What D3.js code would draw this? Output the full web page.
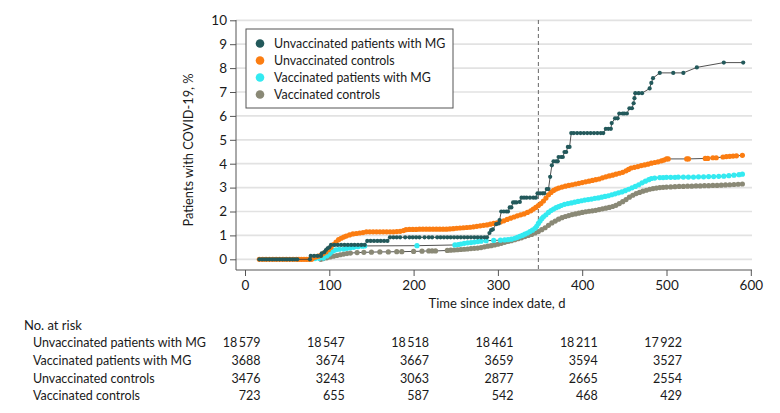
<!DOCTYPE html>
<html><head><meta charset="utf-8">
<script src="https://cdn.jsdelivr.net/npm/d3@7"></script>
<style>
html,body{margin:0;padding:0;background:#fff;}
svg text{font-family:Lato,"Liberation Sans",Arial,sans-serif;fill:#1a1a1a;}
</style></head>
<body><svg id="c" width="780" height="413"></svg>
<script>
// ---------- data ----------
const seriesNames = ["Unvaccinated patients with MG","Unvaccinated controls","Vaccinated patients with MG","Vaccinated controls"];
const seriesColors = ["#23595b","#fb7d12","#33eaf1","#8a8976"];
const xTicks = [0,100,200,300,400,500,600];
const yTicks = [0,1,2,3,4,5,6,7,8,9,10];
const cutoffDay = 348;

const unvaxMG = [[17,0],[20,0],[23,0],[26,0],[29,0],[32,0],[35,0],[38,0],[41,0],[44,0],[47,0],[50,0],[53,0],[56,0],[59,0],[62,0],[77,0],[78,0.14],[82,0.14],[86,0.14],[90,0.14],[91,0.25],[94,0.3],[96,0.39],[98,0.46],[100,0.5],[102,0.6],[106,0.6],[110,0.6],[114,0.6],[118,0.6],[122,0.6],[126,0.6],[130,0.6],[134,0.6],[138,0.6],[142,0.6],[145,0.77],[149,0.77],[153,0.77],[157,0.77],[161,0.77],[165,0.77],[169,0.77],[172,0.92],[176,0.92],[180,0.92],[184,0.92],[190,0.92],[195,0.92],[199,0.92],[203,0.92],[207,0.92],[213,0.92],[218,0.92],[222,0.92],[228,0.92],[232,0.92],[236,0.92],[240,0.92],[244,0.92],[248,0.92],[252,0.92],[256,0.92],[260,0.92],[264,0.92],[268,0.92],[272,0.92],[276,0.92],[280,0.92],[284,0.92],[287,0.92],[290,1.1],[292,1.22],[294,1.25],[298,1.47],[301,1.5],[302,1.64],[304,2.0],[307,2.0],[310,2.0],[312,2.0],[314,2.17],[316,2.17],[318,2.38],[320,2.38],[322,2.38],[326,2.4],[328,2.58],[331,2.58],[334,2.58],[338,2.58],[342,2.58],[345,2.58],[347,2.76],[350,2.76],[353,2.76],[355,2.76],[358,2.94],[360,2.94],[362,3.45],[364,3.93],[366,4.1],[369,4.1],[371,4.1],[372,4.28],[375,4.28],[377,4.28],[379,4.49],[381,4.49],[383,4.7],[385,4.7],[387,5.28],[390,5.28],[394,5.28],[398,5.28],[402,5.28],[406,5.28],[410,5.28],[414,5.28],[418,5.28],[422,5.28],[425,5.28],[428,5.46],[431,5.46],[434,5.46],[435,5.7],[439,5.9],[442,5.9],[444,6.1],[448,6.1],[450,6.1],[453,6.1],[456,6.32],[459,6.32],[461,6.53],[462,6.74],[463,6.95],[467,6.95],[471,6.95],[480,7.15],[482,7.38],[484,7.58],[492,7.8],[508,7.8],[520,7.8],[536,8.03],[568,8.23],[591,8.23]];

const unvaxCtrl = [[17,0],[21,0],[25,0],[29,0],[33,0],[37,0],[41,0],[45,0],[49,0],[53,0],[57,0],[61,0],[64,0],[67,0],[70,0],[73,0],[76,0],[79,0],[81,0.06],[84,0.1],[87,0.13],[90,0.17],[93,0.24],[96,0.31],[99,0.4],[102,0.5],[105,0.62],[108,0.72],[111,0.82],[114,0.88],[117,0.93],[120,0.97],[124,1.02],[128,1.06],[132,1.08],[136,1.1],[140,1.12],[144,1.15],[148,1.15],[152,1.15],[156,1.15],[160,1.15],[164,1.15],[168,1.15],[172,1.15],[176,1.15],[180,1.16],[184,1.17],[188,1.2],[191,1.24],[195,1.25],[199,1.25],[203,1.25],[207,1.26],[211,1.26],[215,1.26],[219,1.26],[223,1.26],[227,1.26],[231,1.26],[235,1.26],[239,1.26],[243,1.27],[247,1.28],[251,1.3],[255,1.31],[259,1.32],[263,1.33],[267,1.34],[271,1.36],[275,1.38],[279,1.4],[283,1.42],[287,1.44],[291,1.47],[295,1.5],[299,1.53],[303,1.56],[307,1.61],[311,1.67],[315,1.72],[319,1.77],[323,1.82],[327,1.86],[331,1.9],[335,1.96],[339,2.03],[342,2.1],[345,2.17],[348,2.25],[351,2.33],[354,2.44],[357,2.56],[360,2.7],[363,2.8],[366,2.88],[369,2.94],[372,2.98],[376,3.02],[380,3.06],[384,3.09],[388,3.12],[392,3.15],[396,3.18],[400,3.21],[404,3.24],[408,3.27],[412,3.3],[416,3.33],[420,3.36],[424,3.41],[428,3.45],[432,3.49],[436,3.52],[440,3.56],[444,3.6],[448,3.64],[452,3.7],[455,3.76],[458,3.82],[462,3.85],[466,3.88],[470,3.92],[474,3.95],[478,3.98],[482,4.02],[486,4.05],[490,4.08],[494,4.12],[497,4.15],[500,4.2],[502,4.2],[524,4.2],[526,4.2],[546,4.22],[549,4.22],[555,4.25],[559,4.25],[567,4.28],[571,4.3],[575,4.31],[579,4.32],[583,4.33],[590,4.35]];

const vaxMG = [[83,0.03],[88,0.04],[93,0.05],[97,0.14],[100,0.22],[102,0.3],[105,0.36],[108,0.4],[112,0.42],[117,0.43],[121,0.46],[125,0.48],[129,0.5],[134,0.53],[139,0.55],[142,0.56],[204,0.57],[249,0.6],[253,0.62],[256,0.64],[260,0.67],[264,0.69],[268,0.7],[272,0.72],[276,0.74],[280,0.76],[286,0.78],[295,0.79],[303,0.8],[308,0.81],[312,0.82],[316,0.84],[320,0.88],[323,0.92],[326,0.96],[329,1.0],[332,1.05],[335,1.1],[338,1.16],[341,1.22],[344,1.3],[346,1.38],[348,1.5],[350,1.6],[352,1.7],[354,1.78],[357,1.86],[360,1.96],[363,2.04],[366,2.1],[369,2.16],[372,2.2],[375,2.25],[379,2.3],[383,2.33],[387,2.36],[391,2.39],[395,2.42],[399,2.45],[403,2.48],[407,2.5],[411,2.52],[415,2.55],[419,2.57],[423,2.6],[427,2.63],[431,2.66],[435,2.7],[439,2.74],[443,2.78],[447,2.82],[451,2.87],[455,2.93],[459,2.99],[463,3.05],[467,3.12],[471,3.2],[475,3.27],[479,3.33],[482,3.38],[486,3.4],[492,3.42],[496,3.42],[500,3.43],[505,3.43],[510,3.43],[514,3.44],[520,3.44],[526,3.44],[532,3.44],[538,3.45],[544,3.45],[550,3.46],[556,3.46],[562,3.47],[568,3.48],[574,3.5],[580,3.52],[586,3.54],[590,3.56]];

const vaxCtrl = [[90,0],[93,0.03],[97,0.06],[101,0.1],[105,0.13],[109,0.16],[113,0.19],[117,0.22],[121,0.24],[125,0.26],[133,0.28],[141,0.29],[150,0.3],[160,0.31],[170,0.31],[180,0.32],[186,0.32],[200,0.33],[210,0.34],[218,0.35],[222,0.35],[226,0.35],[240,0.37],[244,0.38],[248,0.39],[252,0.4],[256,0.41],[260,0.42],[264,0.43],[268,0.45],[272,0.46],[276,0.47],[280,0.49],[284,0.52],[288,0.55],[292,0.57],[296,0.6],[300,0.63],[304,0.67],[308,0.71],[312,0.75],[316,0.78],[320,0.82],[324,0.86],[328,0.9],[332,0.95],[336,1.0],[340,1.04],[344,1.1],[348,1.16],[352,1.24],[356,1.32],[360,1.42],[364,1.52],[368,1.6],[372,1.68],[376,1.74],[380,1.79],[384,1.83],[388,1.87],[392,1.9],[396,1.93],[400,1.96],[404,1.99],[408,2.01],[412,2.03],[416,2.05],[420,2.08],[424,2.11],[428,2.14],[432,2.17],[436,2.21],[440,2.26],[444,2.33],[448,2.41],[452,2.5],[456,2.6],[460,2.68],[464,2.75],[468,2.8],[472,2.85],[476,2.89],[480,2.93],[484,2.96],[488,2.98],[492,3.0],[496,3.01],[500,3.02],[505,3.03],[510,3.04],[515,3.05],[520,3.05],[525,3.06],[530,3.06],[535,3.07],[540,3.07],[545,3.08],[550,3.08],[555,3.09],[560,3.09],[565,3.1],[570,3.11],[575,3.12],[580,3.13],[585,3.14],[590,3.15]];

const riskTimes = [0,100,200,300,400,500];
const riskLabels = ["Unvaccinated patients with MG","Vaccinated patients with MG","Unvaccinated controls","Vaccinated controls"];
const riskUnvaxMG = [18579,18547,18518,18461,18211,17922];
const riskVaxMG = [3688,3674,3667,3659,3594,3527];
const riskUnvaxCtrl = [3476,3243,3063,2877,2665,2554];
const riskVaxCtrl = [723,655,587,542,468,429];

// ---------- chart ----------
const svg = d3.select("#c");
const plotL = 236, plotR = 752, plotT = 20, plotB = 270;
const x = d3.scaleLinear().domain([0,600]).range([245,750.8]);
const y = d3.scaleLinear().domain([0,10]).range([259.3,20.3]);

// gridlines
svg.append("g").selectAll("line").data(yTicks).join("line")
  .attr("x1",plotL).attr("x2",plotR).attr("y1",d=>y(d)).attr("y2",d=>y(d))
  .attr("stroke","#e2e2e2").attr("stroke-width",1.7);

// axes
const yAxis = svg.append("g").attr("transform",`translate(${plotL},0)`)
  .call(d3.axisLeft(y).tickValues(yTicks).tickSize(6).tickPadding(3));
yAxis.select(".domain").remove();
const xAxis = svg.append("g").attr("transform",`translate(0,${plotB})`)
  .call(d3.axisBottom(x).tickValues(xTicks).tickSize(6).tickPadding(4));
xAxis.select(".domain").remove();
[yAxis,xAxis].forEach(a=>{
  a.selectAll(".tick line").attr("stroke","#555");
  a.selectAll(".tick text").attr("font-size",13.5).attr("font-family","Lato,'Liberation Sans',Arial,sans-serif").attr("fill","#1a1a1a");
});
svg.append("line").attr("x1",plotL).attr("x2",plotL).attr("y1",plotT).attr("y2",plotB).attr("stroke","#555").attr("stroke-width",1);
svg.append("line").attr("x1",plotL).attr("x2",plotR).attr("y1",plotB).attr("y2",plotB).attr("stroke","#555").attr("stroke-width",1);

// dashed reference line
svg.append("line").attr("x1",x(cutoffDay)).attr("x2",x(cutoffDay)).attr("y1",plotT).attr("y2",plotB)
  .attr("stroke","#666").attr("stroke-width",1).attr("stroke-dasharray","4,3");

// series
const allSeries = [unvaxMG, unvaxCtrl, vaxMG, vaxCtrl];
const radii = [2.1,2.6,2.6,2.6];
const drawOrder = [3,2,1,0];
const line = d3.line().x(d=>x(d[0])).y(d=>y(d[1]));
drawOrder.forEach(i=>{
  const g = svg.append("g");
  g.append("path").attr("d",line(allSeries[i])).attr("fill","none").attr("stroke","#3d3d3d").attr("stroke-width",0.9);
  g.selectAll("circle").data(allSeries[i]).join("circle")
    .attr("cx",d=>x(d[0])).attr("cy",d=>y(d[1])).attr("r",radii[i]).attr("fill",seriesColors[i]);
});

// axis titles
svg.append("text").attr("x",497).attr("y",308).attr("text-anchor","middle").attr("font-size",13).text("Time since index date, d");
svg.append("text").attr("transform","translate(193,150) rotate(-90)").attr("text-anchor","middle").attr("font-size",12.8).text("Patients with COVID-19, %");

// legend
const lg = svg.append("g");
lg.append("rect").attr("x",246).attr("y",29).attr("width",207).attr("height",79).attr("fill","#fff").attr("stroke","#555").attr("stroke-width",1);
seriesNames.forEach((n,i)=>{
  const cy = 43.5 + i*17;
  lg.append("circle").attr("cx",260).attr("cy",cy).attr("r",4.3).attr("fill",seriesColors[i]);
  lg.append("text").attr("x",274).attr("y",cy).attr("dy","0.35em").attr("font-size",12.4).text(n);
});

// risk table
svg.append("text").attr("x",24).attr("y",325).attr("dy","0.35em").attr("font-size",13).text("No. at risk");
const riskRows = [riskUnvaxMG, riskVaxMG, riskUnvaxCtrl, riskVaxCtrl];
const fmt = v => v >= 10000 ? String(v).slice(0,2)+"\u2009"+String(v).slice(2) : String(v);
riskRows.forEach((row,r)=>{
  const ry = 343 + r*17.7;
  svg.append("text").attr("x",33).attr("y",ry).attr("dy","0.35em").attr("font-size",12.5).text(riskLabels[r]);
  row.forEach((v,j)=>{
    svg.append("text").attr("x",x(riskTimes[j])+15.5).attr("y",ry).attr("dy","0.35em")
      .attr("text-anchor","end").attr("font-size",12.5).text(fmt(v));
  });
});
</script></body></html>
